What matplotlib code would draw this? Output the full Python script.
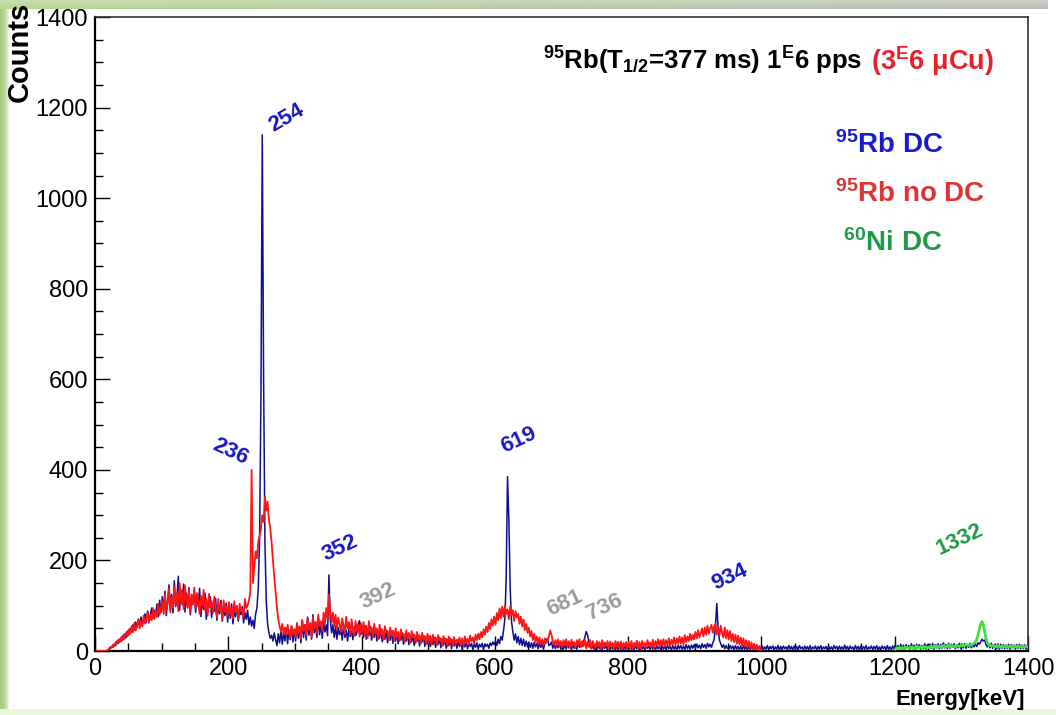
import numpy as np
import matplotlib
matplotlib.use("Agg")
import matplotlib.pyplot as plt
from matplotlib.ticker import MultipleLocator

# ---------------- data (counts per 2 keV bin) ----------------
BIN_KEV = 2

red_counts = [  # 95Rb no DC, 0-1000 keV
    0, 0, 0, 0, 0, 0, 0, 0, 1, 2, 5, 9, 7, 14, 11, 20, 16, 25, 19, 30, 24, 36, 28, 42, 33,
    48, 38, 55, 41, 62, 45, 58, 70, 50, 66, 54, 78, 60, 72, 85, 62, 80, 68, 95, 70, 88, 75, 104, 80, 96,
    110, 82, 125, 90, 104, 138, 86, 118, 95, 142, 100, 128, 88, 150, 105, 132, 92, 145, 110, 98, 136, 85, 125, 102, 140,
    95, 128, 108, 82, 122, 100, 135, 90, 115, 78, 126, 96, 110, 84, 120, 92, 74, 115, 88, 105, 70, 112, 86, 100, 76,
    108, 80, 96, 72, 110, 85, 98, 70, 104, 88, 92, 75, 115, 95, 100, 112, 130, 400, 150, 185, 220, 205, 240, 255, 270,
    300, 285, 340, 310, 330, 290, 270, 240, 200, 165, 130, 95, 70, 55, 42, 60, 38, 52, 35, 58, 40, 30, 55, 36, 48,
    30, 62, 38, 55, 26, 68, 44, 58, 34, 72, 46, 60, 30, 75, 50, 64, 40, 80, 55, 66, 45, 85, 60, 95, 70,
    125, 90, 62, 85, 55, 80, 48, 74, 60, 42, 72, 55, 38, 76, 50, 64, 36, 70, 46, 34, 66, 44, 58, 32, 62,
    40, 64, 35, 56, 28, 66, 42, 52, 30, 60, 38, 50, 26, 58, 36, 47, 25, 55, 40, 44, 24, 52, 34, 45, 22,
    50, 30, 42, 22, 48, 34, 38, 20, 46, 28, 40, 18, 44, 30, 36, 17, 42, 26, 35, 16, 40, 25, 33, 15, 38,
    20, 34, 14, 36, 22, 30, 12, 35, 24, 28, 11, 33, 20, 27, 10, 32, 18, 26, 12, 31, 14, 25, 20, 30, 13,
    28, 12, 32, 18, 27, 14, 34, 22, 30, 16, 36, 24, 38, 26, 42, 30, 48, 36, 54, 42, 62, 48, 70, 56, 76,
    58, 84, 68, 94, 72, 98, 76, 100, 82, 92, 70, 98, 78, 90, 66, 88, 74, 82, 60, 76, 54, 70, 46, 60, 40,
    52, 32, 44, 24, 38, 20, 32, 16, 30, 14, 26, 12, 28, 18, 24, 32, 45, 36, 22, 14, 24, 12, 26, 10, 22,
    8, 24, 12, 26, 10, 22, 6, 25, 12, 20, 7, 24, 14, 26, 8, 22, 10, 25, 6, 21, 9, 24, 5, 22, 12,
    6, 22, 10, 20, 4, 24, 8, 19, 11, 22, 5, 21, 9, 18, 3, 22, 10, 20, 6, 21, 4, 18, 11, 20, 5,
    20, 6, 22, 4, 18, 10, 23, 5, 20, 3, 22, 11, 18, 6, 24, 12, 19, 8, 25, 6, 22, 13, 26, 9, 24,
    12, 26, 10, 24, 14, 28, 11, 25, 15, 30, 13, 28, 17, 32, 16, 30, 14, 35, 20, 32, 22, 38, 24, 36, 26,
    42, 28, 46, 30, 40, 50, 32, 52, 36, 56, 38, 50, 58, 40, 54, 60, 36, 52, 34, 56, 40, 30, 52, 28, 46,
    26, 44, 22, 38, 20, 36, 16, 34, 14, 30, 12, 28, 10, 24, 8, 22, 6, 19, 5, 16, 4, 14, 3, 11, 2,
]

blue_counts = [  # 95Rb DC, 0-1400 keV
    0, 0, 0, 0, 0, 0, 0, 0, 0, 1, 3, 6, 10, 8, 15, 12, 22, 17, 26, 21, 33, 25, 38, 30, 44,
    36, 50, 42, 58, 46, 64, 52, 70, 56, 75, 60, 68, 82, 63, 88, 70, 78, 95, 72, 90, 80, 104, 76, 112, 85,
    120, 88, 132, 78, 110, 146, 92, 125, 84, 155, 98, 120, 165, 90, 135, 102, 148, 86, 128, 95, 140, 80, 118, 105, 132,
    85, 125, 98, 138, 76, 115, 92, 128, 70, 108, 96, 120, 74, 104, 88, 116, 68, 100, 82, 112, 66, 98, 78, 106, 64,
    95, 72, 104, 60, 88, 76, 100, 66, 92, 80, 98, 62, 85, 70, 90, 58, 75, 55, 68, 50, 82, 95, 140, 250, 560,
    1140, 600, 240, 110, 60, 40, 28, 35, 22, 40, 25, 12, 38, 18, 45, 15, 42, 22, 50, 16, 46, 25, 55, 20, 48,
    22, 60, 28, 52, 18, 68, 30, 58, 24, 75, 35, 62, 26, 80, 40, 55, 30, 72, 36, 60, 28, 65, 42, 58, 34,
    168, 70, 40, 58, 30, 55, 26, 52, 36, 48, 24, 58, 30, 46, 22, 50, 32, 44, 25, 54, 34, 40, 60, 67, 36,
    52, 30, 56, 26, 48, 34, 54, 24, 46, 30, 50, 22, 44, 28, 49, 20, 42, 26, 46, 18, 40, 24, 44, 17, 38,
    22, 42, 16, 36, 24, 40, 15, 35, 22, 38, 14, 34, 20, 37, 12, 32, 21, 35, 11, 31, 20, 33, 10, 30, 16,
    32, 10, 28, 14, 30, 8, 27, 15, 29, 7, 26, 13, 28, 6, 25, 12, 27, 5, 24, 11, 22, 6, 23, 10, 21,
    4, 20, 9, 19, 5, 18, 10, 17, 3, 16, 8, 18, 4, 15, 9, 17, 3, 16, 10, 15, 6, 18, 12, 20, 14,
    22, 12, 26, 16, 32, 24, 45, 70, 160, 385, 290, 140, 65, 42, 24, 38, 18, 32, 14, 28, 12, 26, 10, 22, 9,
    20, 8, 18, 6, 19, 9, 17, 5, 18, 8, 16, 4, 17, 22, 28, 12, 14, 20, 6, 16, 5, 15, 7, 17, 4,
    15, 5, 14, 4, 16, 7, 13, 3, 15, 6, 14, 4, 16, 8, 18, 10, 20, 30, 43, 36, 22, 10, 5, 14, 4,
    13, 3, 14, 5, 12, 2, 13, 6, 11, 3, 14, 2, 12, 5, 13, 3, 11, 2, 12, 4, 13, 2, 11, 4, 12,
    3, 12, 4, 11, 2, 13, 5, 10, 3, 12, 4, 11, 2, 12, 6, 10, 3, 13, 4, 11, 2, 12, 5, 10, 3,
    12, 4, 11, 3, 13, 5, 10, 3, 12, 4, 11, 2, 13, 5, 12, 4, 11, 3, 14, 5, 12, 4, 13, 6, 14,
    6, 15, 7, 13, 5, 16, 8, 14, 6, 17, 9, 15, 8, 18, 25, 55, 105, 50, 24, 16, 8, 14, 5, 12, 6,
    4, 12, 5, 11, 3, 12, 4, 10, 3, 11, 2, 12, 4, 10, 3, 11, 2, 10, 4, 11, 2, 9, 3, 10, 2,
    11, 3, 9, 4, 12, 2, 10, 5, 11, 3, 9, 4, 12, 2, 10, 3, 11, 5, 9, 3, 12, 4, 10, 2, 11,
    4, 10, 2, 12, 5, 9, 3, 11, 4, 10, 2, 12, 3, 9, 5, 11, 2, 10, 4, 12, 3, 9, 5, 10, 2,
    11, 4, 9, 3, 12, 5, 10, 2, 11, 4, 9, 3, 13, 4, 10, 2, 11, 5, 9, 2, 12, 4, 10, 3, 11,
    3, 10, 4, 12, 2, 9, 5, 11, 3, 10, 4, 12, 2, 9, 3, 11, 5, 10, 2, 12, 4, 9, 3, 11, 4,
    14, 4, 12, 5, 15, 3, 13, 4, 14, 6, 12, 3, 16, 5, 13, 3, 15, 6, 14, 4, 12, 5, 16, 4, 14,
    5, 15, 6, 17, 4, 14, 7, 16, 5, 15, 6, 18, 7, 14, 5, 17, 6, 15, 8, 16, 5, 14, 7, 17, 6,
    15, 7, 16, 6, 14, 8, 17, 7, 15, 9, 16, 10, 18, 15, 20, 26, 22, 24, 14, 9, 16, 7, 17, 6, 13,
    14, 5, 16, 4, 15, 6, 14, 5, 13, 6, 15, 4, 14, 7, 13, 4, 14, 6, 15, 5, 13, 6, 14, 4, 12,
]

green_start_kev = 1200
green_counts = [  # 60Ni DC, 1200-1400 keV
    4, 7, 5, 8, 6, 7, 5, 9, 6, 8, 7, 6, 9, 7, 8, 6, 10, 7, 9, 8, 7, 10, 8, 9, 7,
    9, 8, 11, 7, 10, 9, 12, 8, 10, 11, 9, 12, 10, 8, 11, 13, 9, 12, 10, 11, 9, 12, 11, 10, 12,
    11, 13, 12, 14, 13, 12, 14, 13, 15, 17, 20, 25, 35, 48, 60, 65, 58, 42, 28, 18, 14, 12, 11, 12, 10,
    11, 9, 12, 10, 8, 11, 9, 10, 8, 11, 9, 10, 8, 12, 9, 10, 8, 11, 9, 10, 8, 11, 9, 10, 9,
]

peak_labels = ["236", "254", "352", "392", "619", "681", "736", "934", "1332"]
x_ticks = [0, 200, 400, 600, 800, 1000, 1200, 1400]
y_ticks = [0, 200, 400, 600, 800, 1000, 1200, 1400]

# ---------------- style ----------------
plt.rcParams["font.family"] = ["Liberation Sans", "DejaVu Sans"]
plt.rcParams["mathtext.fontset"] = "custom"
plt.rcParams["mathtext.rm"] = "Liberation Sans"
plt.rcParams["mathtext.it"] = "Liberation Sans:italic"
plt.rcParams["mathtext.bf"] = "Liberation Sans:bold"
plt.rcParams["mathtext.default"] = "bf"

W, H = 1056, 715
fig = plt.figure(figsize=(W / 100, H / 100), dpi=100)
fig.patch.set_facecolor("white")

# decorative frame (green/gray shadow border of the original slide picture)
bg = np.ones((H, W, 3))
green = np.array([0.66, 0.80, 0.50])
for i in range(9):
    t = i / 9.0
    bg[6:H - 6, i] = green * (1 - t ** 2) + np.array([1, 1, 1]) * t ** 2
row_col = np.linspace(0, 1, W)[:, None]
top = (1 - row_col) * np.array([0.70, 0.84, 0.55]) + row_col * np.array([0.72, 0.72, 0.72])
for j in range(9):
    t = j / 9.0
    lighten = 0.55 * (1 - t)
    bg[j, :] = top * (1 - lighten) + lighten * np.array([0.85, 0.90, 0.80])
bg[H - 6:H, :] = np.array([0.91, 0.97, 0.86])
bg[0:9, W - 8:W] = np.array([1.0, 1.0, 1.0])
fig.figimage(bg, 0, 0, zorder=-10)

ax = fig.add_axes([95 / W, (H - 651) / H, (1028 - 95) / W, (651 - 17) / H])
ax.set_facecolor("white")

bx = np.arange(len(blue_counts)) * BIN_KEV + BIN_KEV / 2
rx = np.arange(len(red_counts)) * BIN_KEV + BIN_KEV / 2
gx = green_start_kev + np.arange(len(green_counts)) * BIN_KEV + BIN_KEV / 2

ax.plot(bx, blue_counts, color="#0e0e8e", lw=1.1, zorder=3)
ax.plot(gx, green_counts, color="#3fe03f", lw=2.0, zorder=3.5)
ax.plot(rx, red_counts, color="#ff1515", lw=1.3, zorder=4)

ax.set_xlim(0, 1400)
ax.set_ylim(0, 1400)
ax.set_xticks(x_ticks)
ax.set_yticks(y_ticks)
ax.set_xticklabels([str(v) for v in x_ticks])
ax.set_yticklabels([str(v) for v in y_ticks])
ax.xaxis.set_minor_locator(MultipleLocator(50))
ax.yaxis.set_minor_locator(MultipleLocator(50))
ax.tick_params(which="both", direction="in", top=False, right=False, colors="black")
ax.tick_params(which="major", length=11, width=1.0, labelsize=17)
ax.tick_params(axis="x", which="major", pad=5)
ax.tick_params(axis="y", which="major", pad=5)
ax.tick_params(which="minor", length=6, width=1.0)
for s in ["left", "bottom"]:
    ax.spines[s].set_linewidth(1.6)
    ax.spines[s].set_color("black")
for s in ["top", "right"]:
    ax.spines[s].set_linewidth(1.2)
    ax.spines[s].set_color("#333333")

# axis titles
fig.text(20 / W, 1 - 2 / H, "Counts", rotation=90, ha="center", va="top",
         fontsize=21, fontweight="bold")
fig.text(1025 / W, (H - 700) / H, "Energy[keV]", ha="right", va="center",
         fontsize=16, fontweight="bold")

# header text
yb = (H - 70) / H
t1 = fig.text(543 / W, yb, r"$^{95}$Rb(T$_{1/2}$=377 ms) 1$^{E}$6 pps", ha="left", va="baseline",
              fontsize=18.5, fontweight="bold", color="black")
fig.canvas.draw()
ext = t1.get_window_extent()
fig.text((ext.x1 + 9) / W, yb, r"(3$^{E}$6 μCu)", ha="left", va="baseline",
         fontsize=19.5, fontweight="bold", color="#e8202a")

# legend-like labels
fig.text(835 / W, (H - 153) / H, r"$^{95}$Rb DC", ha="left", va="baseline",
         fontsize=20, fontweight="bold", color="#1a1ad0")
fig.text(835 / W, (H - 202) / H, r"$^{95}$Rb no DC", ha="left", va="baseline",
         fontsize=20, fontweight="bold", color="#dd3333")
fig.text(843 / W, (H - 251) / H, r"$^{60}$Ni DC", ha="left", va="baseline",
         fontsize=20, fontweight="bold", color="#1e9a48")

# peak energy labels
blue_txt, gray_txt, green_txt = "#1717c4", "#9a9a9a", "#1f9a48"
label_style = {
    "236": (203, 439, -25, blue_txt),
    "254": (288, 1177, 30, blue_txt),
    "352": (368, 227, 25, blue_txt),
    "392": (425, 121, 25, gray_txt),
    "619": (635, 466, 25, blue_txt),
    "681": (705, 106, 25, gray_txt),
    "736": (765, 97, 25, gray_txt),
    "934": (953, 163, 25, blue_txt),
    "1332": (1298, 245, 25, green_txt),
}
for lab in peak_labels:
    x, y, rot, col = label_style[lab]
    ax.text(x, y, lab, rotation=rot, ha="center", va="center", color=col,
            fontsize=16, fontweight="bold", zorder=6)

fig.savefig("out.png", dpi=100, facecolor=fig.get_facecolor())
